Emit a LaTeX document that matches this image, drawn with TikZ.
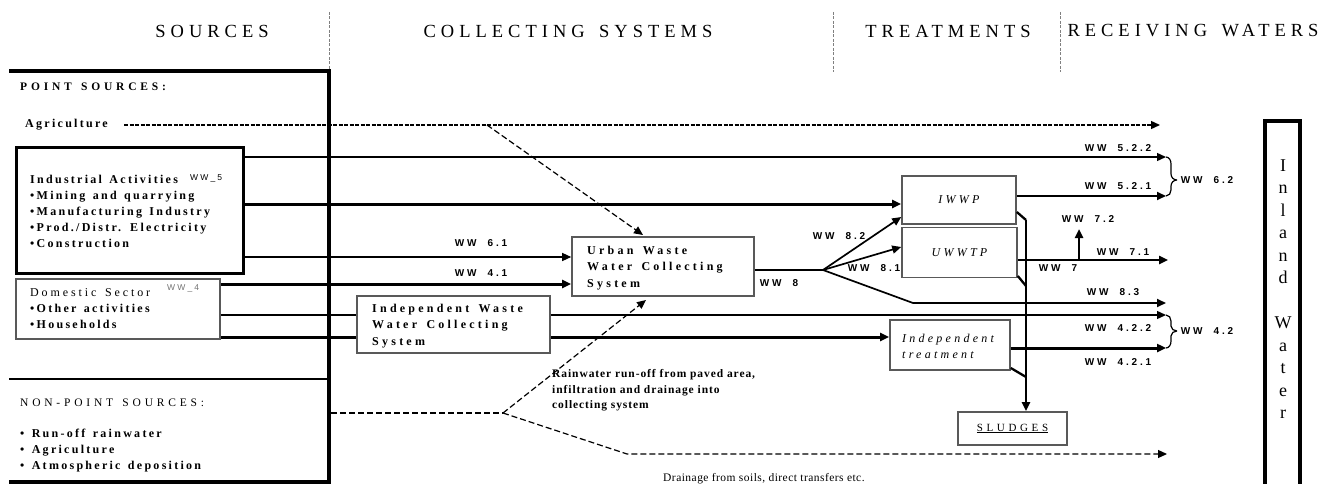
\documentclass[tikz,border=0pt]{standalone}
\usepackage{fontspec}
\setmainfont{Liberation Serif}
\newfontfamily\hdfont[LetterSpace=27,WordSpace=1.2]{Liberation Serif}
\newfontfamily\srcfont[LetterSpace=19,WordSpace=1.4]{Liberation Serif}
\newfontfamily\domfont[LetterSpace=24,WordSpace=1.5]{Liberation Serif}
\newfontfamily\boxfont[LetterSpace=27,WordSpace=1.5]{Liberation Serif}
\newfontfamily\capfont[LetterSpace=33,WordSpace=1.4]{Liberation Serif}
\newfontfamily\notefont[LetterSpace=8]{Liberation Serif}
\newfontfamily\drfont[LetterSpace=4]{Liberation Serif}
\newfontfamily\wwfont[LetterSpace=28,WordSpace=2]{Liberation Sans}
\newfontfamily\wwsfont[LetterSpace=25]{Liberation Sans}
\usetikzlibrary{arrows.meta}
\tikzset{
  hdr/.style={font=\hdfont\fontsize{18.5}{22}\selectfont, inner sep=0pt},
  sepl/.style={draw=gray, line width=0.9pt, dash pattern=on 3pt off 1.5pt},
  srcb/.style={font=\srcfont\bfseries\fontsize{12}{16}\selectfont, inner sep=0pt, align=left},
  capb/.style={font=\capfont\bfseries\fontsize{11.5}{16}\selectfont, inner sep=0pt},
  capr/.style={font=\capfont\fontsize{11.5}{16}\selectfont, inner sep=0pt},
  boxb/.style={font=\boxfont\bfseries\fontsize{12}{16.5}\selectfont, align=left, inner sep=0pt},
  boxi/.style={font=\boxfont\itshape\fontsize{12}{16}\selectfont},
  wwl/.style={font=\wwfont\bfseries\fontsize{10}{11}\selectfont, inner sep=0pt},
  wws/.style={font=\wwsfont\fontsize{8.5}{10}\selectfont, inner sep=0pt},
  note/.style={font=\notefont\bfseries\fontsize{11.5}{15.8}\selectfont, inner sep=0pt, align=left},
  noter/.style={font=\drfont\fontsize{11.5}{15.8}\selectfont, inner sep=0pt},
  gbox/.style={draw=black!65, line width=1.6pt},
  thinl/.style={line width=1.3pt},
  medl/.style={line width=1.7pt},
  thickm/.style={line width=2.3pt},
  thickl/.style={line width=3pt},
  sll/.style={line width=2.3pt},
  dsh/.style={line width=1.2pt, dash pattern=on 6pt off 3pt},
  dshd/.style={line width=1.3pt, dash pattern=on 4pt off 1.5pt},
  arr/.style={-{Triangle[length=9pt,width=8pt]}},
}
\begin{document}
\begin{tikzpicture}[x=1pt,y=-1pt]
\useasboundingbox (0,0) rectangle (1324,484);
\fill[white] (0,0) rectangle (1324,484);

% headers
\node[hdr] (hsrc) at (212,31) {SOURCES};
\node[hdr] (hcol) at (568,31) {COLLECTING SYSTEMS};
\node[hdr] (htr) at (948,31) {TREATMENTS};
\node[hdr] (hrec) at (1193,31) {RECEIVING WATERS};
\draw[sepl] (329,12) -- (329,70);
\draw[sepl] (833,12) -- (833,72);
\draw[sepl] (1060,12) -- (1060,72);

% sources frame
\draw[line width=4pt] (9,71) -- (329,71) -- (329,482) -- (9,482);
\draw[line width=1.2pt] (9,379) -- (329,379);
\draw[line width=2.2pt] (9,379) -- (80,379);

\node[capb, anchor=west] (ps) at (20,87) {POINT SOURCES:};
\node[srcb, anchor=west] (agri) at (25,125) {Agriculture};

% industrial box
\node[draw, line width=3pt, minimum width=227pt, minimum height=126pt] (ind) at (129.5,210) {};
\node[srcb, anchor=west] (indT) at (30,211)
  {Industrial Activities\\
   •Mining and quarrying\\
   •Manufacturing Industry\\
   •Prod./Distr. Electricity\\
   •Construction};
\node[wws, anchor=west] (ww5) at (190,178) {WW\_5};

% domestic box
\node[gbox, minimum width=204pt, minimum height=60pt] (dom) at (118,309) {};
\node[srcb, anchor=west] (domT) at (30,309)
  {{\domfont\mdseries Domestic Sector}\\
   •Other activities\\
   •Households};
\node[wws, text=black!55, anchor=west] (ww4) at (167,288) {WW\_4};

% non point sources
\node[capr, anchor=west] (nps) at (20,403) {NON-POINT SOURCES:};
\node[srcb, anchor=north west] (npl) at (20,429)
  {• Run-off rainwater\\ • Agriculture\\ • Atmospheric deposition};

% collecting systems
\node[gbox, minimum width=182pt, minimum height=59pt] (uwc) at (663,266.5) {};
\node[boxb, anchor=west] (uwcT) at (587,268) {Urban Waste\\ Water Collecting\\ System};
\node[gbox, minimum width=193pt, minimum height=57pt] (iwc) at (453.5,324.5) {};
\node[boxb, anchor=west] (iwcT) at (372,326) {Independent Waste\\ Water Collecting\\ System};

% treatments
\node[gbox, minimum width=114pt, minimum height=48pt, boxi] (iwwp) at (959,200) {IWWP};
\node[gbox, minimum width=115pt, minimum height=50pt, boxi] (uwwtp) at (959.5,252.5) {UWWTP};
\node[gbox, minimum width=120pt, minimum height=50pt] (itr) at (950,345) {};
\node[boxi, align=left, inner sep=0pt, anchor=west] (itrT) at (902,346) {Independent\\ treatment};
\node[gbox, minimum width=109pt, minimum height=33pt,
      font=\capfont\fontsize{11}{13}\selectfont] (sl) at (1012.5,428.5) {\underline{SLUDGES}};

% inland water
\draw[line width=3.5pt] (1265,495) -- (1265,121) -- (1300,121) -- (1300,495);
\node[font=\fontsize{18}{22.5}\selectfont, align=center, inner sep=0pt] (iwt) at (1283,289)
  {I\\n\\l\\a\\n\\d\\[22.5pt]W\\a\\t\\e\\r};

% coordinates
\coordinate (agS) at (124,125);
\coordinate (agE) at (1160,125);
\coordinate (e522) at (1166,157);
\coordinate (e521) at (1166,196);
\coordinate (e71) at (1168,260);
\coordinate (w7) at (1079,260);
\coordinate (w72) at (1079,229);
\coordinate (e83) at (1166,303);
\coordinate (k83) at (913,303);
\coordinate (e422) at (1166,315);
\coordinate (e421) at (1166,348);
\coordinate (fork) at (823,270);
\coordinate (npS) at (331,413);
\coordinate (npF) at (503,413);
\coordinate (npK) at (627,454);
\coordinate (npE) at (1167,454);
\coordinate (agD) at (487,125);
\coordinate (sx1) at (1026,220);
\coordinate (sx2) at (1026,286);
\coordinate (sx3) at (1026,377);

% dashed agriculture
\draw[dshd, arr] (agS) -- (agE);
\draw[dsh, arr] (agD) -- (643,235);

% industrial flows
\draw[thinl, arr] (ind.east |- e522) -- (e522);
\draw[thickl, arr] (ind.east |- 0,204) -- (iwwp.west |- 0,204);
\draw[thinl, arr] (ind.east |- 0,257) -- (uwc.west |- 0,257);

% domestic flows
\draw[thickl, arr] (dom.east |- 0,284) -- (uwc.west |- 0,284);
\draw[thinl] (dom.east |- e422) -- (iwc.west |- e422);
\draw[thinl, arr] (iwc.east |- e422) -- (e422);
\draw[thickl] (dom.east |- 0,337) -- (iwc.west |- 0,337);
\draw[thickl, arr] (iwc.east |- 0,337) -- (itr.west |- 0,337);

% WW 8 fork
\draw[medl] (uwc.east |- fork) -- (fork);
\draw[medl, arr] (fork) -- (iwwp.west |- 0,217);
\draw[medl, arr] (fork) -- (uwwtp.west |- 0,247);
\draw[medl, arr] (fork) -- (k83) -- (e83);

% treatment outputs
\draw[medl, arr] (iwwp.east |- e521) -- (e521);
\draw[thickm, arr] (uwwtp.east |- e71) -- (e71);
\draw[thickm, arr] (w7) -- (w72);
\draw[thickl, arr] (itr.east |- e421) -- (e421);

% sludges
\draw[sll] (iwwp.east |- 0,212) -- (sx1);
\draw[sll] (uwwtp.east |- 0,276) -- (sx2);
\draw[sll] (itr.east |- 0,368) -- (sx3);
\draw[sll, arr] (sx1) -- (sl.north -| sx1);

% braces
\draw[line width=1.2pt] (e522) to[out=0,in=90] (1171,164) -- (1171,174) to[out=-90,in=180] (1177,180)
      (1177,180) to[out=180,in=90] (1171,186) -- (1171,190) to[out=-90,in=0] (e521);
\draw[line width=1.2pt] (e422) to[out=0,in=90] (1171,321) -- (1171,326) to[out=-90,in=180] (1177,331)
      (1177,331) to[out=180,in=90] (1171,336) -- (1171,341) to[out=-90,in=0] (e421);

% non point flows
\draw[dsh] (npS) -- (npF);
\draw[dsh, arr] (npF) -- (646,300);
\draw[dsh, arr] (npF) -- (npK) -- (npE);

% notes
\node[note, anchor=north west] (rain) at (552,369)
  {Rainwater run-off from paved area,\\ infiltration and drainage into\\ collecting system};
\node[noter, anchor=west] (drain) at (663,479) {Drainage from soils, direct transfers etc.};

% WW labels
\node[wwl] (l522) at (1118,148) {WW 5.2.2};
\node[wwl] (l521) at (1118,186) {WW 5.2.1};
\node[wwl] (l62) at (1207,180) {WW 6.2};
\node[wwl] (l72) at (1088,219) {WW 7.2};
\node[wwl] (l71) at (1123,252) {WW 7.1};
\node[wwl] (l7) at (1058,268) {WW 7};
\node[wwl] (l83) at (1113,292) {WW 8.3};
\node[wwl] (l422) at (1118,328) {WW 4.2.2};
\node[wwl] (l421) at (1118,362) {WW 4.2.1};
\node[wwl] (l42) at (1207,331) {WW 4.2};
\node[wwl] (l61) at (481,243) {WW 6.1};
\node[wwl] (l41) at (481,273) {WW 4.1};
\node[wwl] (l8) at (779,283) {WW 8};
\node[wwl] (l82) at (839,236) {WW 8.2};
\node[wwl] (l81) at (874,268) {WW 8.1};
\end{tikzpicture}
\end{document}
